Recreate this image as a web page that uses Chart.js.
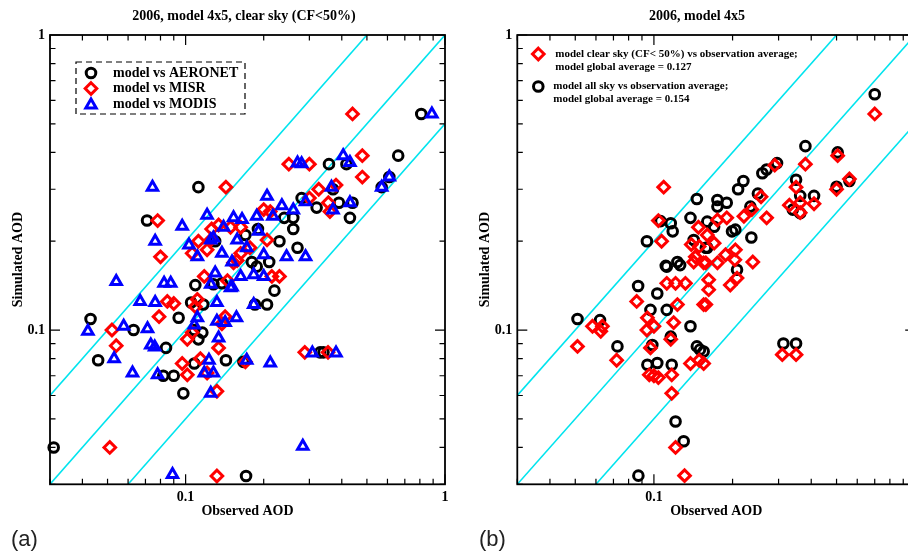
<!DOCTYPE html>
<html>
<head>
<meta charset="utf-8">
<title>AOD scatter, 2006 model 4x5</title>
<script src="https://cdn.jsdelivr.net/npm/chart.js@4.4.1/dist/chart.umd.min.js"></script>
<style>
  html, body { margin: 0; padding: 0; overflow: hidden; background: #fff; }
  #wrap { position: relative; width: 908px; height: 554px; overflow: hidden; }
  .panel { position: absolute; top: 0; height: 554px; }
  #panelA { left: 0; width: 454px; }
  #panelB { left: 454px; width: 470px; }
  .ptitle { position: absolute; top: 8px; font: bold 14px "Liberation Serif", serif; color: #000;
            text-align: center; white-space: nowrap; }
  .tag { position: absolute; top: 526px; font: 22px "Liberation Sans", sans-serif; color: #222; }
</style>
</head>
<body>
<div id="wrap">
  <div class="panel" id="panelA"><canvas id="chartA" width="454" height="554"></canvas></div>
  <div class="panel" id="panelB"><canvas id="chartB" width="470" height="554"></canvas></div>
  <div class="ptitle" style="left:94px;width:300px;">2006, model 4x5, clear sky (CF&lt;50%)</div>
  <div class="ptitle" style="left:547px;width:300px;">2006, model 4x5</div>
  <div class="tag" style="left:11px;">(a)</div>
  <div class="tag" style="left:479px;">(b)</div>
</div>
<script>
//#region data
// log axis tick positions (both axes, both panels)
const tickValues = [0.03, 0.04, 0.05, 0.06, 0.07, 0.08, 0.09,
  0.1, 0.2, 0.3, 0.4, 0.5, 0.6, 0.7, 0.8, 0.9, 1];
const labeledTicks = [0.1, 1];

// reference lines: y = 2x, y = x, y = x/2
const lineDouble = [[0.03, 0.06], [0.5, 1]];
const lineOne = [[0.03, 0.03], [1, 1]];
const lineHalf = [[0.06, 0.03], [1, 0.5]];

// panel (a): [observed, simulated]
const aeronetPts = [
  [0.81, 0.54], [0.66, 0.39], [0.112, 0.305], [0.071, 0.235], [0.357, 0.365], [0.417, 0.365],
  [0.57, 0.305], [0.61, 0.33], [0.37, 0.30], [0.32, 0.26], [0.39, 0.27], [0.44, 0.27],
  [0.43, 0.24], [0.28, 0.28], [0.26, 0.24], [0.26, 0.22], [0.23, 0.20], [0.27, 0.19],
  [0.19, 0.22], [0.18, 0.17], [0.21, 0.17], [0.13, 0.20], [0.17, 0.21], [0.24, 0.24],
  [0.043, 0.109], [0.046, 0.079], [0.063, 0.10], [0.084, 0.087], [0.094, 0.11], [0.082, 0.07],
  [0.09, 0.07], [0.098, 0.061], [0.109, 0.142], [0.105, 0.124], [0.117, 0.122], [0.108, 0.10],
  [0.116, 0.098], [0.112, 0.093], [0.108, 0.077], [0.143, 0.079], [0.167, 0.078], [0.171, 0.032],
  [0.031, 0.040], [0.185, 0.122], [0.206, 0.122], [0.22, 0.136], [0.128, 0.143], [0.138, 0.144],
  [0.33, 0.084], [0.34, 0.084], [0.188, 0.164]
];
const misrPts = [
  [0.44, 0.54], [0.48, 0.39], [0.48, 0.33], [0.25, 0.365], [0.30, 0.365], [0.143, 0.305],
  [0.078, 0.235], [0.08, 0.177], [0.112, 0.20], [0.106, 0.182], [0.326, 0.30], [0.38, 0.31],
  [0.355, 0.27], [0.30, 0.28], [0.36, 0.252], [0.20, 0.256], [0.212, 0.252], [0.163, 0.223],
  [0.149, 0.223], [0.126, 0.22], [0.134, 0.227], [0.206, 0.202], [0.177, 0.19], [0.163, 0.182],
  [0.158, 0.172], [0.153, 0.169], [0.125, 0.202], [0.121, 0.187], [0.215, 0.152], [0.23, 0.152],
  [0.118, 0.152], [0.145, 0.147], [0.111, 0.127], [0.109, 0.12], [0.142, 0.111], [0.138, 0.105],
  [0.106, 0.098], [0.134, 0.087], [0.114, 0.08], [0.121, 0.0715], [0.132, 0.062], [0.132, 0.032],
  [0.288, 0.084], [0.354, 0.084], [0.17, 0.078], [0.079, 0.111], [0.052, 0.10], [0.054, 0.0885],
  [0.051, 0.040], [0.1015, 0.093], [0.097, 0.077], [0.1015, 0.0705], [0.085, 0.125], [0.09, 0.123]
];
const modisPts = [
  [0.89, 0.54], [0.0745, 0.305], [0.27, 0.368], [0.28, 0.366], [0.405, 0.39], [0.43, 0.37],
  [0.57, 0.305], [0.61, 0.33], [0.365, 0.305], [0.37, 0.255], [0.43, 0.27], [0.29, 0.272],
  [0.206, 0.284], [0.235, 0.264], [0.26, 0.255], [0.188, 0.243], [0.121, 0.245], [0.153, 0.24],
  [0.165, 0.237], [0.217, 0.243], [0.097, 0.225], [0.0763, 0.20], [0.103, 0.194], [0.111, 0.177],
  [0.14, 0.223], [0.125, 0.202], [0.158, 0.202], [0.172, 0.19], [0.2, 0.18], [0.245, 0.177],
  [0.29, 0.177], [0.138, 0.182], [0.128, 0.205], [0.191, 0.216], [0.151, 0.17], [0.151, 0.14],
  [0.054, 0.146], [0.042, 0.099], [0.053, 0.08], [0.0577, 0.103], [0.0624, 0.0715], [0.0668, 0.125],
  [0.0763, 0.124], [0.0713, 0.101], [0.0734, 0.089], [0.076, 0.0876], [0.078, 0.0705], [0.0826, 0.144],
  [0.0876, 0.144], [0.089, 0.0324], [0.111, 0.11], [0.13, 0.156], [0.125, 0.143], [0.132, 0.124],
  [0.149, 0.139], [0.163, 0.152], [0.183, 0.122], [0.132, 0.107], [0.142, 0.106], [0.157, 0.11],
  [0.134, 0.094], [0.123, 0.079], [0.118, 0.0715], [0.128, 0.0715], [0.125, 0.061], [0.172, 0.079],
  [0.212, 0.0773], [0.308, 0.0836], [0.38, 0.0836], [0.283, 0.0404], [0.183, 0.154], [0.2, 0.152],
  [0.108, 0.104]
];

// panel (b): [observation average, model]
const allSkyPts = [
  [0.70, 0.63], [0.38, 0.42], [0.505, 0.40], [0.56, 0.32], [0.50, 0.306], [0.41, 0.285],
  [0.363, 0.285], [0.35, 0.323], [0.34, 0.256], [0.363, 0.249], [0.296, 0.368], [0.27, 0.35],
  [0.26, 0.34], [0.25, 0.29], [0.22, 0.32], [0.21, 0.30], [0.234, 0.262], [0.236, 0.206],
  [0.175, 0.276], [0.19, 0.27], [0.175, 0.262], [0.146, 0.278], [0.138, 0.24], [0.116, 0.23],
  [0.118, 0.216], [0.106, 0.234], [0.094, 0.20], [0.111, 0.165], [0.123, 0.17], [0.142, 0.202],
  [0.16, 0.233], [0.17, 0.224], [0.205, 0.219], [0.158, 0.19], [0.208, 0.16], [0.087, 0.141],
  [0.103, 0.133], [0.097, 0.117], [0.051, 0.109], [0.0622, 0.108], [0.112, 0.164], [0.126, 0.166],
  [0.16, 0.19], [0.138, 0.103], [0.112, 0.117], [0.0725, 0.088], [0.0986, 0.089], [0.0944, 0.0763],
  [0.103, 0.0773], [0.117, 0.0763], [0.146, 0.088], [0.155, 0.0846], [0.121, 0.049], [0.13, 0.042],
  [0.0872, 0.0321], [0.116, 0.095], [0.313, 0.09], [0.35, 0.09], [0.199, 0.216], [0.15, 0.0858]
];
const clearSkyPts = [
  [0.70, 0.54], [0.505, 0.39], [0.38, 0.365], [0.29, 0.362], [0.50, 0.30], [0.56, 0.325],
  [0.35, 0.305], [0.33, 0.265], [0.363, 0.27], [0.363, 0.25], [0.41, 0.268], [0.257, 0.283],
  [0.27, 0.24], [0.221, 0.243], [0.237, 0.256], [0.239, 0.17], [0.19, 0.24], [0.175, 0.236],
  [0.148, 0.223], [0.16, 0.21], [0.17, 0.197], [0.139, 0.195], [0.144, 0.177], [0.205, 0.187],
  [0.204, 0.173], [0.188, 0.18], [0.109, 0.305], [0.104, 0.235], [0.107, 0.20], [0.158, 0.169],
  [0.175, 0.169], [0.208, 0.15], [0.196, 0.142], [0.162, 0.148], [0.162, 0.137], [0.158, 0.122],
  [0.31, 0.0825], [0.35, 0.0825], [0.155, 0.077], [0.0859, 0.125], [0.0944, 0.11], [0.0582, 0.103],
  [0.0635, 0.103], [0.123, 0.122], [0.112, 0.144], [0.121, 0.144], [0.132, 0.144], [0.149, 0.192],
  [0.142, 0.17], [0.155, 0.169], [0.155, 0.122], [0.119, 0.106], [0.051, 0.088], [0.0626, 0.099],
  [0.072, 0.079], [0.097, 0.087], [0.096, 0.0705], [0.10, 0.07], [0.104, 0.069], [0.117, 0.0705],
  [0.117, 0.061], [0.138, 0.077], [0.149, 0.079], [0.121, 0.04], [0.131, 0.0321], [0.116, 0.093],
  [0.094, 0.10], [0.10, 0.103]
];
//#endregion

//#region styles
const CYAN = "#00e4ee";
const serif = "'Liberation Serif', 'Times New Roman', serif";
const markerStyles = {
  circle: { pointStyle: "circle", radius: 4.8, color: "#000000" },
  diamond: { pointStyle: "rectRot", radius: 5.8, color: "#ff0000" },
  triangle: { pointStyle: "triangle", radius: 6, color: "#0000ff" },
};
//#endregion

//#region helpers
function toXY(pts) {
  return pts.map(([x, y]) => ({ x: x, y: y }));
}

function scatterSet(label, pts, kind, order) {
  const m = markerStyles[kind];
  return {
    type: "scatter",
    label: label,
    data: toXY(pts),
    pointStyle: m.pointStyle,
    pointRadius: m.radius,
    pointBorderWidth: 3,
    pointBorderColor: m.color,
    pointBackgroundColor: "rgba(0,0,0,0)",
    showLine: false,
    clip: false,
    order: order,
  };
}

function refLine(pts) {
  return {
    type: "line",
    data: toXY(pts),
    borderColor: CYAN,
    borderWidth: 1.6,
    pointRadius: 0,
    fill: false,
    order: 10,
  };
}

// draw a hollow legend marker like the data points
function drawMarker(ctx, kind, x, y) {
  const m = markerStyles[kind];
  const r = m.radius;
  ctx.save();
  ctx.strokeStyle = m.color;
  ctx.lineWidth = 3;
  ctx.beginPath();
  if (kind === "circle") {
    ctx.arc(x, y, r, 0, Math.PI * 2);
  } else if (kind === "diamond") {
    ctx.moveTo(x, y - r);
    ctx.lineTo(x + r, y);
    ctx.lineTo(x, y + r);
    ctx.lineTo(x - r, y);
    ctx.closePath();
  } else {
    ctx.moveTo(x, y - r);
    ctx.lineTo(x + r * Math.sin(Math.PI * 2 / 3), y + r / 2);
    ctx.lineTo(x - r * Math.sin(Math.PI * 2 / 3), y + r / 2);
    ctx.closePath();
  }
  ctx.stroke();
  ctx.restore();
}

// frame plus inward tick marks on all four sides
const frameTicks = {
  id: "frameTicks",
  afterDatasetsDraw(chart) {
    const ctx = chart.ctx;
    const a = chart.chartArea;
    const xs = chart.scales.x;
    const ys = chart.scales.y;
    ctx.save();
    ctx.strokeStyle = "#000";
    ctx.lineWidth = 1.2;
    ctx.beginPath();
    tickValues.forEach((v) => {
      const len = labeledTicks.includes(v) ? 10 : 5.5;
      const px = xs.getPixelForValue(v);
      ctx.moveTo(px, a.bottom);
      ctx.lineTo(px, a.bottom - len);
      ctx.moveTo(px, a.top);
      ctx.lineTo(px, a.top + len);
      const py = ys.getPixelForValue(v);
      ctx.moveTo(a.left, py);
      ctx.lineTo(a.left + len, py);
      ctx.moveTo(a.right, py);
      ctx.lineTo(a.right - len, py);
    });
    ctx.stroke();
    ctx.lineWidth = 1.8;
    ctx.strokeRect(a.left, a.top, a.right - a.left, a.bottom - a.top);
    ctx.restore();
  },
};

function logAxis(title, size, titlePad) {
  const isX = title === "Observed AOD";
  return {
    type: "logarithmic",
    min: 0.03,
    max: 1,
    afterBuildTicks: (scale) => {
      scale.ticks = tickValues.map((v) => ({ value: v }));
    },
    afterFit: (scale) => {
      if (isX) scale.height = size;
      else scale.width = size;
    },
    grid: { display: false, drawTicks: false },
    border: { display: false },
    ticks: {
      autoSkip: false,
      maxRotation: 0,
      padding: 5,
      color: "#000",
      font: { family: serif, size: 14, weight: "bold" },
      callback: (v) => (labeledTicks.includes(v) ? String(v) : ""),
    },
    title: {
      display: true,
      text: title,
      color: "#000",
      font: { family: serif, size: 14, weight: "bold" },
      padding: titlePad,
    },
  };
}

function baseOptions(yWidth, yTitlePad, padRight) {
  return {
    responsive: false,
    animation: false,
    events: [],
    layout: { padding: { left: 0, right: padRight, top: 35, bottom: 0 } },
    plugins: { legend: { display: false }, tooltip: { enabled: false } },
    scales: {
      x: logAxis("Observed AOD", 69.7, { top: 0, bottom: 34.6 }),
      y: logAxis("Simulated AOD", yWidth, { top: yTitlePad, bottom: 0 }),
    },
  };
}
//#endregion

//#region panel (a)
const legendA = {
  id: "legendA",
  afterDraw(chart) {
    const ctx = chart.ctx;
    const a = chart.chartArea;
    const bx = a.left + 26;
    const by = a.top + 27;
    ctx.save();
    ctx.setLineDash([6, 4]);
    ctx.lineWidth = 1.2;
    ctx.strokeStyle = "#000";
    ctx.strokeRect(bx, by, 169, 52);
    ctx.setLineDash([]);
    ctx.font = "bold 14px " + serif;
    ctx.fillStyle = "#000";
    ctx.textBaseline = "middle";
    const rows = [
      ["circle", "model vs AERONET"],
      ["diamond", "model vs MISR"],
      ["triangle", "model vs MODIS"],
    ];
    rows.forEach(([kind, text], i) => {
      const y = by + 11 + i * 15.5;
      drawMarker(ctx, kind, bx + 15, y + (kind === "triangle" ? 1 : 0));
      ctx.fillText(text, bx + 37, y);
    });
    ctx.restore();
  },
};

new Chart(document.getElementById("chartA"), {
  data: {
    datasets: [
      scatterSet("model vs MODIS", modisPts, "triangle", 1),
      scatterSet("model vs MISR", misrPts, "diamond", 2),
      scatterSet("model vs AERONET", aeronetPts, "circle", 3),
      refLine(lineDouble),
      refLine(lineOne),
      refLine(lineHalf),
    ],
  },
  options: baseOptions(50, 9.6, 8.3),
  plugins: [frameTicks, legendA],
});
//#endregion

//#region panel (b)
const legendB = {
  id: "legendB",
  afterDraw(chart) {
    const ctx = chart.ctx;
    const a = chart.chartArea;
    const mx = a.left + 21;
    ctx.save();
    ctx.font = "bold 11px " + serif;
    ctx.fillStyle = "#000";
    ctx.textBaseline = "middle";
    drawMarker(ctx, "diamond", mx, a.top + 19);
    ctx.fillText("model clear sky (CF< 50%) vs observation average;", mx + 17, a.top + 19);
    ctx.fillText("model global average = 0.127", mx + 17, a.top + 32.5);
    drawMarker(ctx, "circle", mx, a.top + 51.5);
    ctx.fillText("model all sky vs observation average;", mx + 15, a.top + 51.5);
    ctx.fillText("model global average = 0.154", mx + 15, a.top + 64.5);
    ctx.restore();
  },
};

new Chart(document.getElementById("chartB"), {
  data: {
    datasets: [
      scatterSet("model clear sky (CF< 50%) vs observation average", clearSkyPts, "diamond", 1),
      scatterSet("model all sky vs observation average", allSkyPts, "circle", 2),
      refLine(lineDouble),
      refLine(lineOne),
      refLine(lineHalf),
    ],
  },
  options: baseOptions(63.3, 22.6, 7.7),
  plugins: [frameTicks, legendB],
});
//#endregion
</script>
</body>
</html>
